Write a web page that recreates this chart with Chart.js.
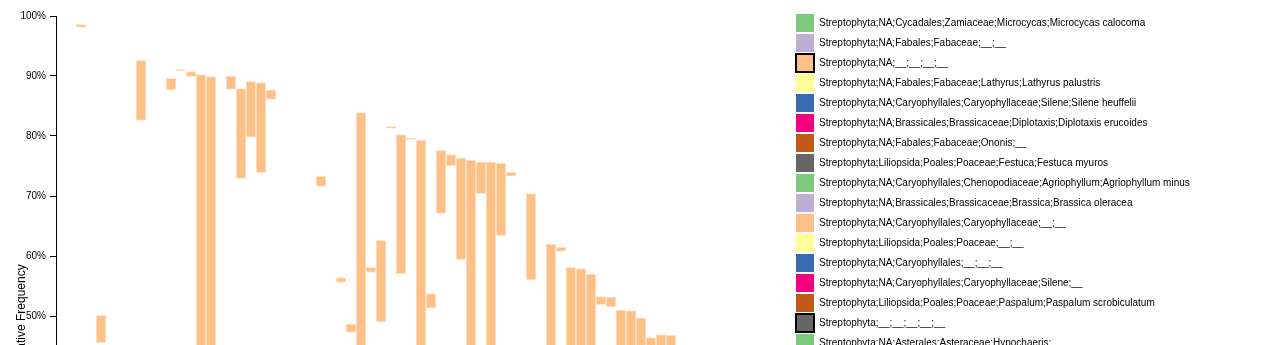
<!DOCTYPE html>
<html>
<head>
<meta charset="utf-8">
<script src="https://cdn.jsdelivr.net/npm/chart.js@4.4.1/dist/chart.umd.min.js"></script>
<style>
  html, body { margin: 0; padding: 0; background: #fff; overflow: hidden; }
  #wrap { position: relative; width: 1261px; height: 646px; }
</style>
</head>
<body>
<div id="wrap"><canvas id="taxaChart"></canvas></div>
<script>
// sample columns (x axis runs below the visible window)
const samples = [
  'S01','S02','S03','S04','S05','S06','S07','S08','S09','S10',
  'S11','S12','S13','S14','S15','S16','S17','S18','S19','S20',
  'S21','S22','S23','S24','S25','S26','S27','S28','S29','S30',
  'S31','S32','S33','S34','S35','S36','S37','S38','S39','S40',
  'S41','S42','S43','S44','S45','S46','S47','S48','S49','S50',
  'S51','S52','S53','S54','S55','S56','S57','S58','S59','S60',
  'S61','S62','S63','S64','S65','S66','S67','S68','S69','S70',
  'S71','S72','S73'
];

// highlighted taxon segment: lower / upper cumulative frequency (%)
const segLow = [
  null, null, 98.1, null, 45.5, null, null, null, 82.6, null,
  null, 87.7, 90.9, 89.9, 20.0, 25.0, null, 87.75, 72.95, 79.8,
  73.9, 86.1, null, null, null, null, 71.6, null, 55.6, 47.25,
  30.0, 57.25, 49.0, 81.25, 57.0, 79.45, 35.0, 51.3, 67.1, 75.0,
  59.4, 40.0, 70.4, 30.0, 63.4, 73.3, null, 56.0, null, 40.0,
  60.75, 35.0, 38.0, 30.0, 51.9, 51.5, 40.0, 35.0, 30.0, 30.0,
  38.0, 40.0, null, null, null, null, null, null, null, null,
  null, null, null
];
const segHigh = [
  null, null, 98.6, null, 50.1, null, null, null, 92.6, null,
  null, 89.6, 91.1, 90.75, 90.25, 89.9, null, 90.0, 87.9, 89.1,
  88.9, 87.7, null, null, null, null, 73.3, null, 56.4, 48.7,
  83.9, 58.1, 62.6, 81.6, 80.25, 79.6, 79.3, 53.75, 77.6, 76.9,
  76.3, 76.0, 75.7, 75.7, 75.5, 74.0, null, 70.4, null, 62.0,
  61.5, 58.1, 57.9, 57.0, 53.25, 53.2, 51.0, 50.9, 49.7, 46.4,
  46.9, 46.8, null, null, null, null, null, null, null, null,
  null, null, null
];

const yTicks = [0, 10, 20, 30, 40, 50, 60, 70, 80, 90, 100];

const taxa = [
  'Streptophyta;NA;Cycadales;Zamiaceae;Microcycas;Microcycas calocoma',
  'Streptophyta;NA;Fabales;Fabaceae;__;__',
  'Streptophyta;NA;__;__;__;__',
  'Streptophyta;NA;Fabales;Fabaceae;Lathyrus;Lathyrus palustris',
  'Streptophyta;NA;Caryophyllales;Caryophyllaceae;Silene;Silene heuffelii',
  'Streptophyta;NA;Brassicales;Brassicaceae;Diplotaxis;Diplotaxis erucoides',
  'Streptophyta;NA;Fabales;Fabaceae;Ononis;__',
  'Streptophyta;Liliopsida;Poales;Poaceae;Festuca;Festuca myuros',
  'Streptophyta;NA;Caryophyllales;Chenopodiaceae;Agriophyllum;Agriophyllum minus',
  'Streptophyta;NA;Brassicales;Brassicaceae;Brassica;Brassica oleracea',
  'Streptophyta;NA;Caryophyllales;Caryophyllaceae;__;__',
  'Streptophyta;Liliopsida;Poales;Poaceae;__;__',
  'Streptophyta;NA;Caryophyllales;__;__;__',
  'Streptophyta;NA;Caryophyllales;Caryophyllaceae;Silene;__',
  'Streptophyta;Liliopsida;Poales;Poaceae;Paspalum;Paspalum scrobiculatum',
  'Streptophyta;__;__;__;__;__',
  'Streptophyta;NA;Asterales;Asteraceae;Hypochaeris;__'
];
const taxaColors = [
  '#7fc97f', '#beaed4', '#fdc086', '#ffff99', '#386cb0', '#f0027f', '#bf5b17', '#666666',
  '#7fc97f', '#beaed4', '#fdc086', '#ffff99', '#386cb0', '#f0027f', '#bf5b17', '#666666',
  '#7fc97f'
];
const selectedTaxa = [2, 15];

const FONT = "'Liberation Sans', Arial, sans-serif";

// moves the legend next to the plot, the way the original page places it
const legendPlace = {
  id: 'legendPlace',
  afterLayout(chart) {
    const lg = chart.legend;
    lg.left = chart.chartArea.right + 8;
    lg.right = chart.width;
    lg.top = 12;
  }
};

const ctx = document.getElementById('taxaChart').getContext('2d');

const floating = segLow.map((lo, i) => (lo === null ? null : [lo, segHigh[i]]));

new Chart(ctx, {
  type: 'bar',
  data: {
    labels: samples,
    datasets: [{
      label: taxa[2],
      data: floating,
      backgroundColor: '#fdc086',
      borderColor: '#fde9d6',
      borderWidth: 1,
      borderSkipped: false,
      categoryPercentage: 1.0,
      barPercentage: 1.0
    }]
  },
  options: {
    responsive: true,
    maintainAspectRatio: false,
    animation: false,
    layout: {
      padding: { top: 16, left: 0, right: 175, bottom: 0 }
    },
    scales: {
      x: {
        grid: { display: false },
        border: { display: false },
        ticks: { display: false },
        afterFit: (scale) => { scale.height = 30; }
      },
      y: {
        min: 0,
        max: 100,
        afterBuildTicks: (scale) => { scale.ticks = yTicks.map(v => ({ value: v })); },
        afterFit: (scale) => { scale.width = 56; },
        grid: {
          display: true,
          drawOnChartArea: false,
          drawTicks: true,
          tickLength: 6,
          color: '#000'
        },
        border: { display: true, color: '#000', width: 1 },
        ticks: {
          padding: 4,
          color: '#000',
          font: { size: 10, family: FONT },
          callback: (v) => v + '%'
        },
        title: {
          display: true,
          text: 'Relative Frequency',
          color: '#000',
          font: { size: 12, family: FONT },
          padding: { top: 14.5, bottom: 0 }
        }
      }
    },
    plugins: {
      tooltip: { enabled: false },
      legend: {
        display: true,
        position: 'right',
        align: 'start',
        maxWidth: 300,
        labels: {
          boxWidth: 18,
          boxHeight: 18,
          padding: 2,
          color: '#000',
          font: { size: 10, family: FONT },
          generateLabels: () => taxa.map((name, i) => ({
            text: name,
            fillStyle: taxaColors[i],
            strokeStyle: '#000',
            lineWidth: selectedTaxa.includes(i) ? 2 : 0,
            hidden: false,
            datasetIndex: 0
          }))
        }
      }
    }
  },
  plugins: [legendPlace]
});
</script>
</body>
</html>
